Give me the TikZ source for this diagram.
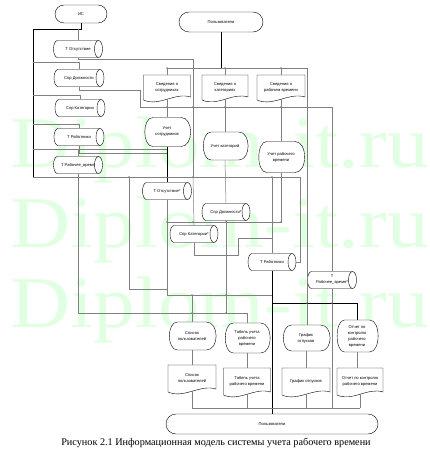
\documentclass[tikz,border=0pt]{standalone}
\usepackage{fontspec}
\setmainfont{Liberation Serif}
\newfontfamily\dsans{Liberation Sans}
\usetikzlibrary{shapes.misc}
\definecolor{wmc}{RGB}{225,255,225}
\definecolor{wirec}{RGB}{128,128,128}
\tikzset{
 txt/.style={font=\dsans\fontsize{4.1}{6}\selectfont, align=center, inner sep=0pt},
 shp/.style={draw=black, line width=0.4pt},
 term/.style={rounded rectangle, draw=black, line width=0.4pt, fill=white, font=\dsans\fontsize{4.1}{6}\selectfont, inner sep=0pt},
 wire/.style={draw=wirec, line width=0.5pt},
 bus/.style={draw=black, line width=0.9pt},
 jdot/.style={circle, fill=wirec, inner sep=0pt, minimum size=1.6pt},
 wmark/.style={text=wmc, font=\fontsize{73}{73}\selectfont, anchor=base west, inner sep=0pt}
}
\newcommand\mkcyl[5]{%
 \pgfmathsetmacro\zzL{#2-#4/2}%
 \pgfmathsetmacro\zzR{#2+#4/2}%
 \pgfmathsetmacro\zzT{#3-8.5}%
 \pgfmathsetmacro\zzB{#3+8.5}%
 \pgfmathsetmacro\zzUp{#3-4.7}%
 \pgfmathsetmacro\zzDn{#3+4.7}%
 \pgfmathsetmacro\zzLi{\zzL+4}%
 \pgfmathsetmacro\zzLa{\zzL+1.8}%
 \pgfmathsetmacro\zzRi{\zzR-4}%
 \pgfmathsetmacro\zzRa{\zzR-1.8}%
 \pgfmathsetmacro\zzRb{\zzR-6.2}%
 \pgfmathsetmacro\zzRc{\zzR-8}%
 \draw[shp,fill=white] (\zzLi,\zzT) -- (\zzRi,\zzT) .. controls (\zzRa,\zzT) and (\zzR,\zzUp) .. (\zzR,#3) .. controls (\zzR,\zzDn) and (\zzRa,\zzB) .. (\zzRi,\zzB) -- (\zzLi,\zzB) .. controls (\zzLa,\zzB) and (\zzL,\zzDn) .. (\zzL,#3) .. controls (\zzL,\zzUp) and (\zzLa,\zzT) .. cycle;
 \draw[shp] (\zzRi,\zzT) .. controls (\zzRb,\zzT) and (\zzRc,\zzUp) .. (\zzRc,#3) .. controls (\zzRc,\zzDn) and (\zzRb,\zzB) .. (\zzRi,\zzB);
 \node[txt, minimum width=#4pt, minimum height=17pt] (#1) at (#2,#3) {#5};
}
\newcommand\mkdoc[6]{%
 \pgfmathsetmacro\zzL{#2-#4/2}\pgfmathsetmacro\zzR{#2+#4/2}%
 \pgfmathsetmacro\zzT{#3-#5/2}\pgfmathsetmacro\zzB{#3+#5/2}%
 \pgfmathsetmacro\zzBa{\zzB+1}\pgfmathsetmacro\zzBb{\zzB-2}%
 \pgfmathsetmacro\zzBc{\zzB-7}\pgfmathsetmacro\zzBd{\zzB+8}%
 \pgfmathsetmacro\zzXa{\zzR-#4/3}\pgfmathsetmacro\zzXb{\zzL+#4/3}%
 \draw[shp,fill=white] (\zzL,\zzBa) -- (\zzL,\zzT) -- (\zzR,\zzT) -- (\zzR,\zzBb) .. controls (\zzXa,\zzBc) and (\zzXb,\zzBd) .. (\zzL,\zzBa) -- cycle;
 \node[txt, minimum width=#4pt, minimum height=#5pt] (#1) at (#2,#3) {#6};
}
\newcommand\mkdisp[6]{%
 \pgfmathsetmacro\zzL{#2-#4/2}\pgfmathsetmacro\zzR{#2+#4/2}%
 \pgfmathsetmacro\zzT{#3-#5/2}\pgfmathsetmacro\zzB{#3+#5/2}%
 \pgfmathsetmacro\zzPa{\zzL+0.2*#4}\pgfmathsetmacro\zzPb{\zzR-0.2*#4}%
 \pgfmathsetmacro\zzCa{\zzL-0.03*#4}\pgfmathsetmacro\zzCb{\zzR+0.07*#4}%
 \draw[shp,fill=white] (\zzPa,\zzT) -- (\zzPb,\zzT) .. controls (\zzCb,\zzT) and (\zzCb,\zzB) .. (\zzPb,\zzB) -- (\zzPa,\zzB) .. controls (\zzCa,\zzB) and (\zzCa,\zzT) .. cycle;
 \node[txt, minimum width=#4pt, minimum height=#5pt] (#1) at (#2,#3) {#6};
}
\begin{document}
\begin{tikzpicture}[x=1pt,y=-1pt]
\useasboundingbox (0,0) rectangle (430,460);
\fill[white] (0,0) rectangle (430,460);
% watermark
\node[wmark] (wm1) at (10,167) {\scalebox{1.14}[1]{Diplom-it.ru}};
\node[wmark] (wm2) at (10,247) {\scalebox{1.14}[1]{Diplom-it.ru}};
\node[wmark] (wm3) at (10,327) {\scalebox{1.14}[1]{Diplom-it.ru}};
% terminals
\node[term, minimum width=52pt, minimum height=18pt] (IS) at (81,14) {ИС};
\node[term, minimum width=84pt, minimum height=20pt] (U1) at (221,22) {Пользователи};
\node[term, minimum width=212pt, minimum height=20pt] (U2) at (272,424) {Пользователи};
% cylinders
\mkcyl{c1}{78}{49}{49}{Т Отсутствие}
\mkcyl{c2}{79}{78}{50}{Спр Должности}
\mkcyl{c3}{80}{108}{50}{Спр Категории}
\mkcyl{c4}{79}{137}{50}{Т Работники}
\mkcyl{c5}{78}{165}{49}{Т Рабочее\_время}
\mkcyl{m1}{167}{191}{49}{Т Отсутствие*}
\mkcyl{m2}{226}{212}{48}{Спр Должности*}
\mkcyl{m3}{194}{234}{48}{Спр Категории*}
\mkcyl{m4}{272}{262}{48}{Т Работники}
\mkcyl{m5}{332}{280}{49}{Т\\Рабочее\_время*}
% documents
\mkdoc{s1}{167}{87}{47}{24}{Сведения о\\сотрудниках}
\mkdoc{s2}{225}{87}{46}{24}{Сведения о\\категориях}
\mkdoc{s3}{281}{87}{48}{24}{Сведения о\\рабочем времени}
\mkdoc{o1}{192}{378}{48}{26}{Список\\пользователей}
\mkdoc{o2}{247}{381}{47}{26}{Табель учета\\рабочего времени}
\mkdoc{o3}{306}{381}{48}{26}{График отпусков}
\mkdoc{o4}{360}{381}{46}{26}{Отчет по контролю\\рабочего времени}
% displays
\mkdisp{u1}{167}{132}{47}{29}{Учет\\сотрудников}
\mkdisp{u2}{225}{146}{46}{28}{Учет категорий}
\mkdisp{u3}{281}{157}{47}{31}{Учет рабочего\\времени}
\mkdisp{d1}{192}{336}{48}{28}{Список\\пользователей}
\mkdisp{d2}{247}{338}{46}{30}{Табель учета\\рабочего\\времени}
\mkdisp{d3}{306}{338}{48}{26}{График\\отпусков}
\mkdisp{d4}{357}{336}{42}{32}{Отчет по\\контролю\\рабочего\\времени}
% junction coordinates
\coordinate (j0) at (81,29);
\coordinate (b0) at (33,29);
\coordinate (b1) at (33,177);
\coordinate (b2) at (300,177);
\coordinate (pd) at (221,68);
\coordinate (g1) at (307,68);
\coordinate (k1) at (193,59);
\coordinate (k2) at (140,90);
\coordinate (k3) at (332,107);
\coordinate (k4) at (167,153);
\coordinate (t2) at (33,62);
\coordinate (t3) at (33,95);
\coordinate (t4) at (33,124);
\coordinate (t5) at (33,149);
\coordinate (t5e) at (167,149);
\coordinate (a1) at (129,177);
\coordinate (a2) at (129,289);
\coordinate (q3) at (272,295);
\coordinate (r2) at (247,313);
\coordinate (h1) at (167,222);
\coordinate (h2) at (282,222);
\coordinate (n1) at (238,255);
\coordinate (n2) at (272,238);
\coordinate (y1) at (272,303);
\coordinate (e1) at (192,408);
\coordinate (e2) at (360,408);
% left side
\draw[bus] (IS.south) -- (j0) -- (b0) -- (b1);
\draw[wire] (c1.north) -- (c1.north |- j0);
\draw[wire] (t2) -| (c2.north);
\draw[wire] (t3) -| (c3.north);
\draw[wire] (t4) -| (c4.north);
\draw[wire] (t5) -- (t5e);
\draw[wire] (c5.north) -- (c5.north |- t5);
\draw[wire] (c1.south) |- (k1) -- (k1 |- b1);
\draw[wire] (c2.south) |- (k2) |- (k3) -- (m5.north);
\draw[wire] (c4.south) |- (k4);
\draw[wire] (c5.south) |- (r2) -- (d2.north);
\draw[wire] (d1.north) -- (d1.north |- q3);
% top side
\draw[bus] (U1.south) -- (pd);
\draw[wire] (s1.north) |- (g1) -- (g1 |- d3.north);
\draw[wire] (s2.north) -- (s2.north |- g1);
\draw[wire] (s3.north) -- (s3.north |- g1);
\draw[wire] (s1.south) -- (u1.north);
\draw[wire] (s2.south) -- (u2.north);
\draw[wire] (s3.south) -- (u3.north);
\draw[bus] (u1.south) -- (m1.north);
% middle
\draw[wire] (b1) -- (b2) |- (m4.east);
\draw[wire] (k1 |- b1) -- (m3.north);
\draw[wire] (a1) -- (a2) -- (a2 -| m1.south);
\draw[wire] (m1.south) |- (q3);
\draw[wire] (u2.south) -- (m2.north);
\draw[wire] (m2.south) -- (m2.south |- r2);
\draw[wire] (m3.south) |- (n1) |- (n2);
\draw[wire] (n2 |- b1) -- (m4.north);
\draw[wire] (u3.south) -- (u3.south |- h1);
\draw[wire] (h1) -- (h2);
\draw[wire] (m5.south) -- (m5.south |- e1);
\draw[bus] (m4.south) -- (U2.north);
\draw[bus] (y1) -| (d4.north);
% outputs
\draw[wire] (d1.south) -- (o1.north);
\draw[wire] (d2.south) -- (o2.north);
\draw[wire] (d3.south) -- (o3.north);
\draw[wire] (d4.south) -- (d4.south |- o4.north);
\draw[wire] (e1) -- (e2);
\draw[wire] (o1.south) -- (o1.south |- e1);
\draw[wire] (o2.south) -- (o2.south |- e1);
\draw[wire] (o3.south) -- (o3.south |- e1);
\draw[wire] (o4.south) -- (o4.south |- e1);
% junction dots
\foreach \p in {k1 |- b1, a1, n2 |- b1, s1.north |- g1, s2.north |- g1, s3.north |- g1, h1, u3.south |- h1, d1.north |- q3, m2.south |- q3, d1.north |- r2, m2.south |- r2, g1 |- y1, k3 |- y1, u1.south |- k3, k1 |- k3, s2.south |- k3, s3.south |- k3, h1 -| k1, h1 -| m2.south}
  \node[jdot] at (\p) {};
% caption
\node[font=\fontsize{10.2}{12}\selectfont, anchor=base, inner sep=0pt] (cap) at (216,445) {Рисунок 2.1 Информационная модель системы учета рабочего времени};
\end{tikzpicture}
\end{document}
